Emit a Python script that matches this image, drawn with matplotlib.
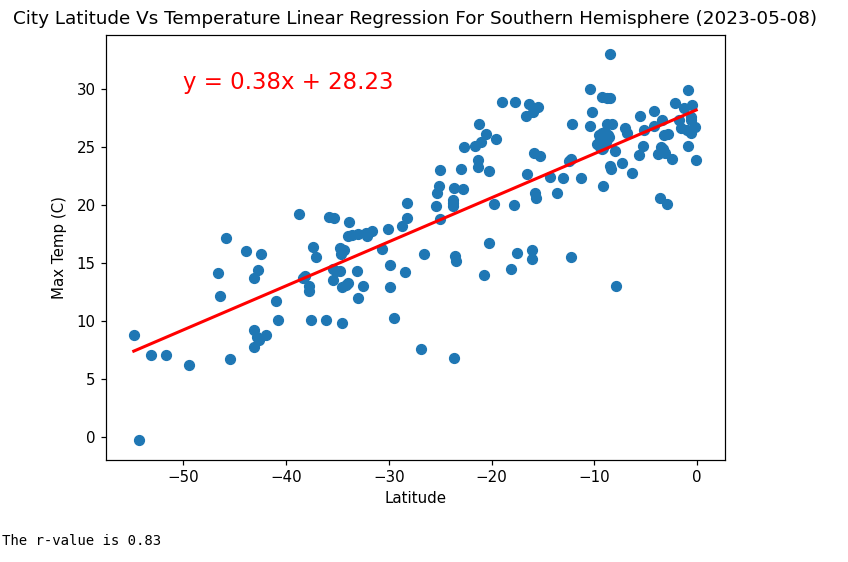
import matplotlib
matplotlib.use("Agg")
import matplotlib.pyplot as plt

latitude = [
    -54.8, -54.3, -53.1, -51.7, -49.4, -46.6, -46.4, -45.4, -43.9, -42.4, -42.7, -43.1, -45.8,
    -43.1, -42.8, -42.6, -41.9, -43.1, -41.0, -40.8, -38.7, -37.4, -37.1, -38.1, -38.3, -37.8,
    -37.8, -37.6, -36.1, -34.5, -35.4, -35.4, -34.7, -35.1, -34.7, -34.4, -34.6, -33.1, -34.0,
    -34.2, -34.5, -32.5, -33.0, -30.7, -29.9, -29.9, -29.5, -28.4, -26.9,
    -35.8, -35.3, -33.9, -34.0, -33.6, -33.0, -32.1, -31.6, -32.2, -30.1, -28.7, -28.2, -28.2,
    -8.5, -10.4, -0.9, -19.0, -17.7, -16.4, -15.5, -16.0, -16.7, -9.3, -8.8, -8.5, -10.2,
    -21.2, -12.2, -10.4, -20.5, -19.6, -21.0, -21.6, -22.7, -8.8, -8.3, -7.0, -6.8,
    -5.6, -4.2, -2.2, -1.3, -0.5, -3.4, -4.2, -5.2, -1.75, -0.6, -0.6, -1.6, -1.0, -0.2, -0.6,
    -2.8, -3.2, -5.3, -0.9, -3.5, -3.3, -5.7, -3.8, -3.1, -2.5, -0.1, -8.0, -9.3, -8.5, -8.4,
    -7.3, -6.3, -3.6, -2.9, -9.2, -11.3, -13.1, -14.3, -16.6, -15.9, -15.3, -12.3, -12.5,
    -21.3, -21.3, -20.3, -23.0, -25.0, -25.1, -25.3, -25.4, -25.0, -23.7, -22.8, -23.8, -23.8,
    -23.8, -19.8, -17.8, -15.8, -15.7, -13.6,
    -26.6, -23.6, -23.5, -20.3, -20.7, -17.5, -16.1, -16.1, -18.1, -12.3, -7.9, -23.7,
    -9.6, -9.3, -9.0, -8.7, -9.5, -9.1, -8.8, -9.7, -9.4, -9.0, -8.6, -9.5, -9.2, -8.9,
]
max_temp = [
    8.8, -0.25, 7.1, 7.1, 6.2, 14.1, 12.2, 6.7, 16.0, 15.8, 14.4, 13.7, 17.2,
    9.2, 8.6, 8.4, 8.8, 7.8, 11.7, 10.1, 19.25, 16.4, 15.5, 13.9, 13.7, 13.0,
    12.6, 10.1, 10.1, 9.8, 13.5, 14.5, 14.3, 14.3, 16.3, 16.1, 15.8, 14.3, 13.25,
    13.1, 12.9, 13.0, 12.0, 16.2, 14.8, 12.9, 10.3, 14.2, 7.6,
    19.0, 18.85, 18.5, 17.3, 17.4, 17.5, 17.35, 17.8, 17.6, 17.9, 18.2, 18.9, 20.2,
    33.0, 30.0, 29.9, 28.9, 28.9, 28.7, 28.45, 28.0, 27.7, 29.3, 29.2, 29.2, 28.0,
    27.0, 27.0, 26.8, 26.15, 25.7, 25.4, 25.1, 25.0, 27.0, 27.0, 26.6, 26.2,
    27.7, 28.1, 28.8, 28.4, 28.6, 27.3, 26.8, 26.5, 27.3, 27.55, 27.3, 26.6, 26.5, 26.7, 26.2,
    26.15, 26.05, 25.05, 25.05, 25.0, 24.8, 24.3, 24.4, 24.45, 24.0, 23.9, 24.7, 24.8, 23.4, 23.1,
    23.6, 22.75, 20.6, 20.1, 21.6, 22.3, 22.3, 22.4, 22.7, 24.5, 24.2, 24.0, 23.8,
    23.85, 23.25, 22.9, 23.1, 23.0, 21.65, 21.0, 19.9, 18.8, 21.5, 21.4, 20.4, 20.15,
    19.9, 20.1, 20.0, 21.0, 20.65, 21.05,
    15.75, 15.65, 15.2, 16.7, 13.95, 15.9, 16.1, 15.35, 14.5, 15.55, 13.0, 6.85,
    26.0, 26.2, 26.3, 26.0, 25.6, 25.7, 25.7, 25.3, 25.2, 25.3, 25.9, 25.0, 24.9, 25.4,
]
line_x = [-54.8, -0.1]
slope = 0.38
intercept = 28.23
title = "City Latitude Vs Temperature Linear Regression For Southern Hemisphere (2023-05-08)"
equation = "y = 0.38x + 28.23"
rvalue_text = "The r-value is 0.83"

plt.rcParams.update({
    "font.size": 10.8,
    "axes.linewidth": 0.88,
    "xtick.major.size": 3.85,
    "ytick.major.size": 3.85,
    "xtick.major.width": 0.88,
    "ytick.major.width": 0.88,
})

W, H = 848, 562
fig = plt.figure(figsize=(W / 100, H / 100), dpi=100)
ax = fig.add_axes([106 / W, 1 - 460 / H, (725 - 106) / W, (460 - 35) / H])

ax.scatter(latitude, max_temp, s=50, color="#1f77b4")
ax.plot(line_x, [slope * v + intercept for v in line_x], color="red", linewidth=2.2)
ax.annotate(equation, (-50, 30), fontsize=16.5, color="red")

ax.set_xlim(-57.5, 2.7)
ax.set_ylim(-1.98, 34.66)
ax.set_xlabel("Latitude", fontsize=10.8)
ax.set_ylabel("Max Temp (C)", fontsize=10.8, labelpad=7)
ax.set_title(title, fontsize=13.2, pad=8)
ax.tick_params(labelsize=10.8)

fig.text(2 / W, 1 - 541 / H, rvalue_text, family="DejaVu Sans Mono", fontsize=10.1,
         va="center", ha="left", color="black")

fig.savefig("out.png", dpi=100)
